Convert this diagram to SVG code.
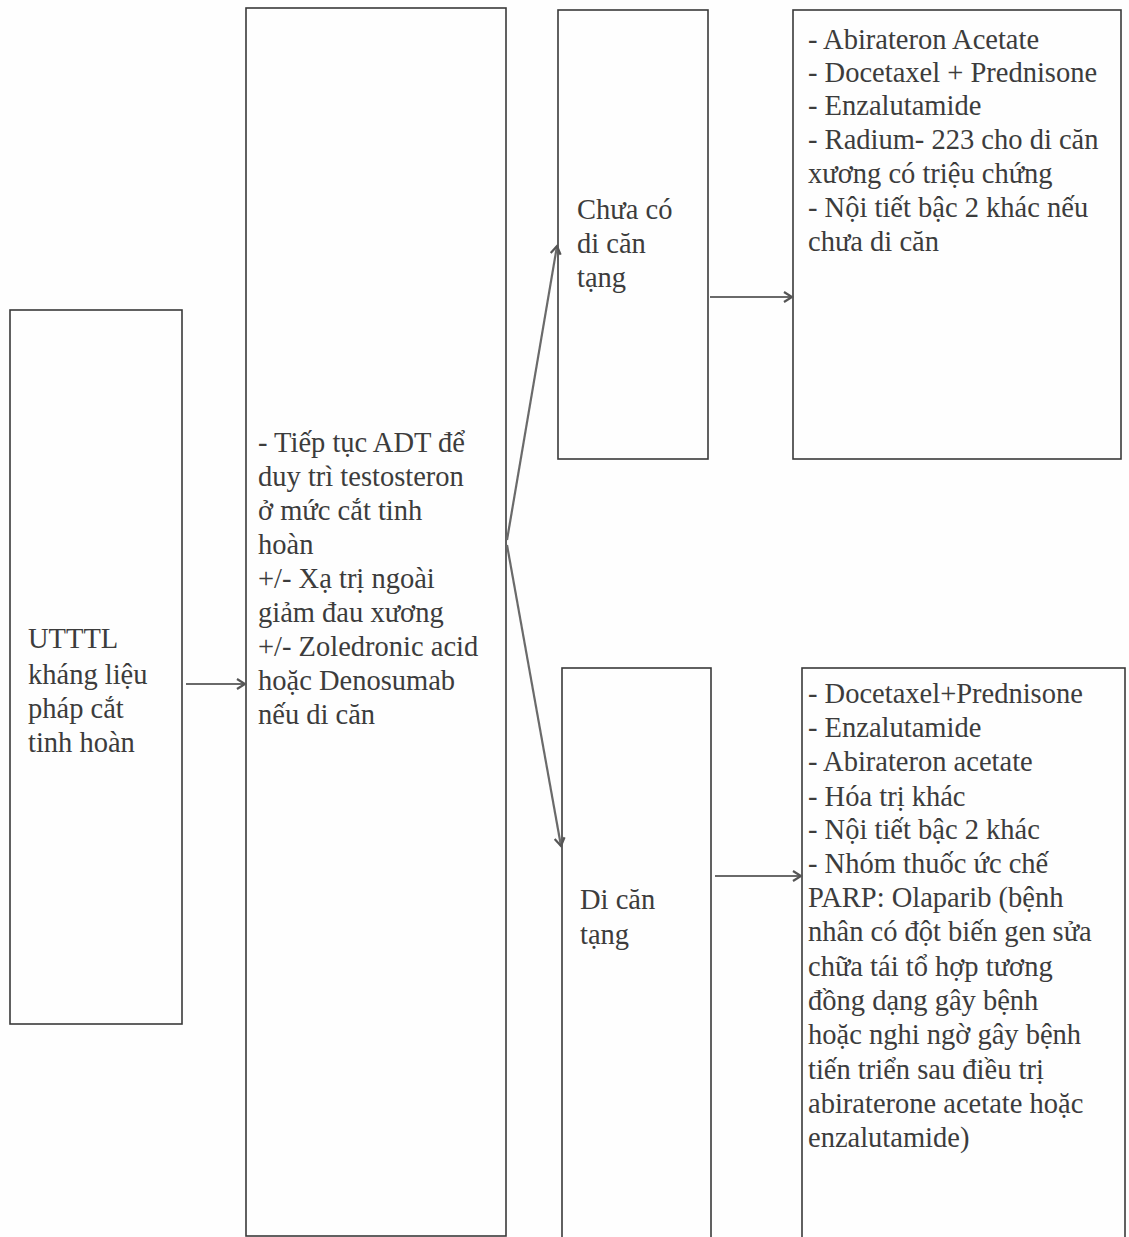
<svg xmlns="http://www.w3.org/2000/svg" width="1129" height="1237" viewBox="0 0 1129 1237">
<defs>
<style>
.box{fill:none;stroke:#3a3a3a;stroke-width:1.6}
.t{font-family:"Liberation Serif","Times New Roman",serif;font-size:28.5px;fill:#3c3c3c}
.c{fill:none;stroke:#6a6a6a;stroke-width:2.2}
</style>
<marker id="ah" markerWidth="12" markerHeight="12" refX="10" refY="6" orient="auto" markerUnits="userSpaceOnUse">
<path d="M2,1 L10,6 L2,11" fill="none" stroke="#555" stroke-width="2.2"/>
</marker>
</defs>
<rect width="1129" height="1237" fill="#fefefe"/>
<g id="n1">
<rect class="box" x="10" y="310" width="172" height="714"/>
<text class="t"><tspan x="28" y="648">UTTTL</tspan><tspan x="28" y="684">kháng liệu</tspan><tspan x="28" y="718">pháp cắt</tspan><tspan x="28" y="752">tinh hoàn</tspan></text>
</g>
<g id="n2">
<rect class="box" x="246" y="8" width="260" height="1228"/>
<text class="t"><tspan x="258" y="452">- Tiếp tục ADT để</tspan><tspan x="258" y="486">duy trì testosteron</tspan><tspan x="258" y="520">ở mức cắt tinh</tspan><tspan x="258" y="554">hoàn</tspan><tspan x="258" y="588">+/- Xạ trị ngoài</tspan><tspan x="258" y="622">giảm đau xương</tspan><tspan x="258" y="656">+/- Zoledronic acid</tspan><tspan x="258" y="690">hoặc Denosumab</tspan><tspan x="258" y="724">nếu di căn</tspan></text>
</g>
<g id="n3">
<rect class="box" x="558" y="10" width="150" height="449"/>
<text class="t"><tspan x="577" y="219">Chưa có</tspan><tspan x="577" y="253">di căn</tspan><tspan x="577" y="287">tạng</tspan></text>
</g>
<g id="n4">
<rect class="box" x="793" y="10" width="328" height="449"/>
<text class="t"><tspan x="808" y="49">- Abirateron Acetate</tspan><tspan x="808" y="82">- Docetaxel + Prednisone</tspan><tspan x="808" y="115">- Enzalutamide</tspan><tspan x="808" y="149">- Radium- 223 cho di căn</tspan><tspan x="808" y="183">xương có triệu chứng</tspan><tspan x="808" y="217">- Nội tiết bậc 2 khác nếu</tspan><tspan x="808" y="251">chưa di căn</tspan></text>
</g>
<g id="n5">
<rect class="box" x="562" y="668" width="149" height="580"/>
<text class="t"><tspan x="580" y="909">Di căn</tspan><tspan x="580" y="944">tạng</tspan></text>
</g>
<g id="n6">
<rect class="box" x="802" y="668" width="323" height="580"/>
<text class="t"><tspan x="808" y="703">- Docetaxel+Prednisone</tspan><tspan x="808" y="737">- Enzalutamide</tspan><tspan x="808" y="771">- Abirateron acetate</tspan><tspan x="808" y="806">- Hóa trị khác</tspan><tspan x="808" y="839">- Nội tiết bậc 2 khác</tspan><tspan x="808" y="873">- Nhóm thuốc ức chế</tspan><tspan x="808" y="907">PARP: Olaparib (bệnh</tspan><tspan x="808" y="941">nhân có đột biến gen sửa</tspan><tspan x="808" y="976">chữa tái tổ hợp tương</tspan><tspan x="808" y="1010">đồng dạng gây bệnh</tspan><tspan x="808" y="1044">hoặc nghi ngờ gây bệnh</tspan><tspan x="808" y="1079">tiến triển sau điều trị</tspan><tspan x="808" y="1113">abiraterone acetate hoặc</tspan><tspan x="808" y="1147">enzalutamide)</tspan></text>
</g>
<g id="connectors">
<line class="c" x1="186" y1="684" x2="245" y2="684" marker-end="url(#ah)"/>
<line class="c" x1="507" y1="540" x2="557" y2="246" marker-end="url(#ah)"/>
<line class="c" x1="507" y1="545" x2="561" y2="846" marker-end="url(#ah)"/>
<line class="c" x1="710" y1="297" x2="792" y2="297" marker-end="url(#ah)"/>
<line class="c" x1="715" y1="876" x2="801" y2="876" marker-end="url(#ah)"/>
</g>
</svg>
